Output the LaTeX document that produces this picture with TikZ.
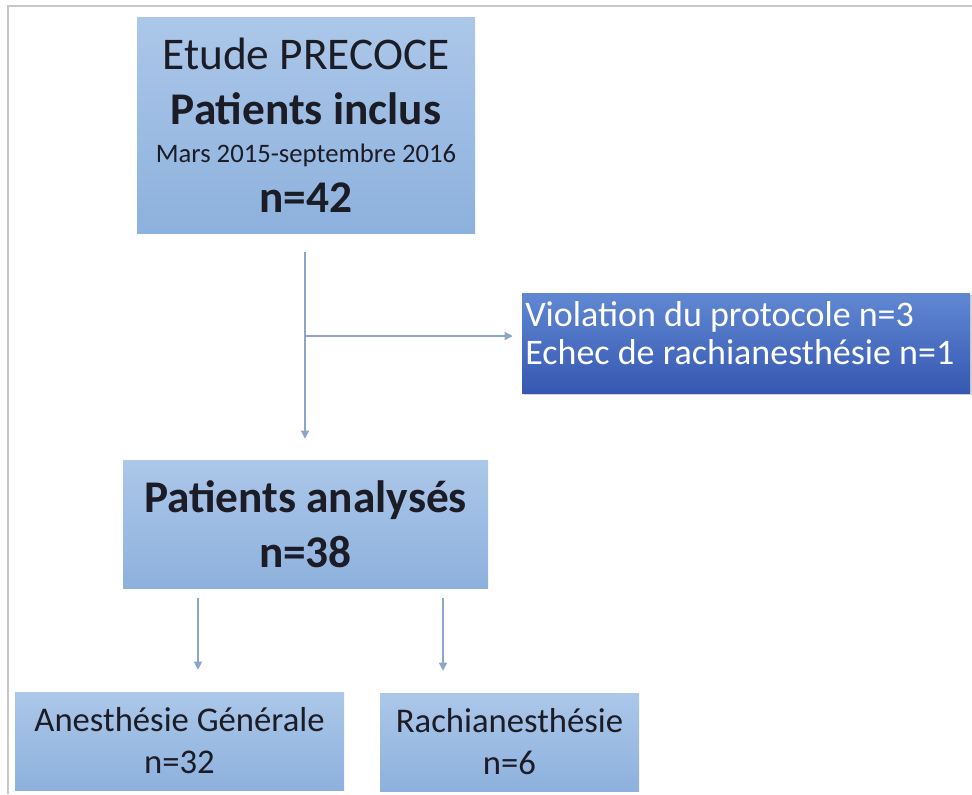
\documentclass[tikz,border=0pt]{standalone}
\usepackage{fontspec}
\setmainfont{Carlito}
\usetikzlibrary{arrows.meta,shadows}

\definecolor{boxtop}{RGB}{172,199,233}
\definecolor{boxbottom}{RGB}{141,177,221}
\definecolor{darktop}{RGB}{96,136,210}
\definecolor{darkbottom}{RGB}{54,88,178}
\definecolor{linkblue}{RGB}{140,166,202}
\definecolor{inktext}{RGB}{28,28,38}
\definecolor{framegray}{RGB}{200,200,200}

\begin{document}
\begin{tikzpicture}[x=0.75pt, y=-0.75pt,
    lightbox/.style={rectangle, top color=boxtop, bottom color=boxbottom, text=inktext, align=center, inner sep=0pt},
    darkbox/.style={rectangle, top color=darktop, bottom color=darkbottom, text=white, inner sep=0pt,
        drop shadow={opacity=0.35, shadow xshift=1.5pt, shadow yshift=-1.5pt}},
    link/.style={draw=linkblue, line width=0.9pt, -{Triangle[width=6pt,length=6pt]}}]
    \useasboundingbox (0,0) rectangle (972,794);
    \draw[framegray, line width=1.5pt] (8,794) -- (8,6) -- (972,6);

    \node[lightbox, minimum width=253.5pt, minimum height=162pt, font=\fontsize{34}{41}\selectfont] (incl) at (306,125) {
    Etude PRECOCE \\
    \textbf{Patients inclus} \\[-12pt]
    {\fontsize{20}{24}\selectfont Mars 2015-septembre 2016} \\[-4pt]
    \textbf{n=42}
    };
    \node[darkbox, minimum width=336pt, minimum height=75pt, text width=331pt, align=flush left, inner xsep=2.5pt, text depth=44pt, font=\fontsize{27}{29}\selectfont] (excl) at (746,343) {
    Violation du protocole n=3 \\
    Echec de rachianesthésie n=1
    };
    \node[lightbox, minimum width=273.75pt, minimum height=96pt, font=\bfseries\fontsize{34}{41}\selectfont] (anal) at (305.5,524) {
    Patients analysés \\
    n=38
    };
    \node[lightbox, minimum width=246.75pt, minimum height=73.5pt, font=\fontsize{26}{31.5}\selectfont] (ag) at (179.5,741) {
    Anesthésie Générale \\
    n=32
    };
    \node[lightbox, minimum width=194.25pt, minimum height=73.5pt, font=\fontsize{26}{31.5}\selectfont] (rachi) at (509.5,742) {
    Rachianesthésie \\
    n=6
    };

    \coordinate (split) at (305,336);
    \coordinate (agx) at (198,0);
    \coordinate (rachix) at (443,0);
    \draw[link, shorten <=14.25pt, shorten >=15.75pt] (incl.south -| split) -- (anal.north -| split);
    \draw[link, shorten >=6.75pt] (split) -- (split -| excl.west);
    \draw[link, shorten <=7.5pt, shorten >=16.5pt] (anal.south -| agx) -- (ag.north -| agx);
    \draw[link, shorten <=7.5pt, shorten >=16.5pt] (anal.south -| rachix) -- (rachi.north -| rachix);
\end{tikzpicture}
\end{document}
